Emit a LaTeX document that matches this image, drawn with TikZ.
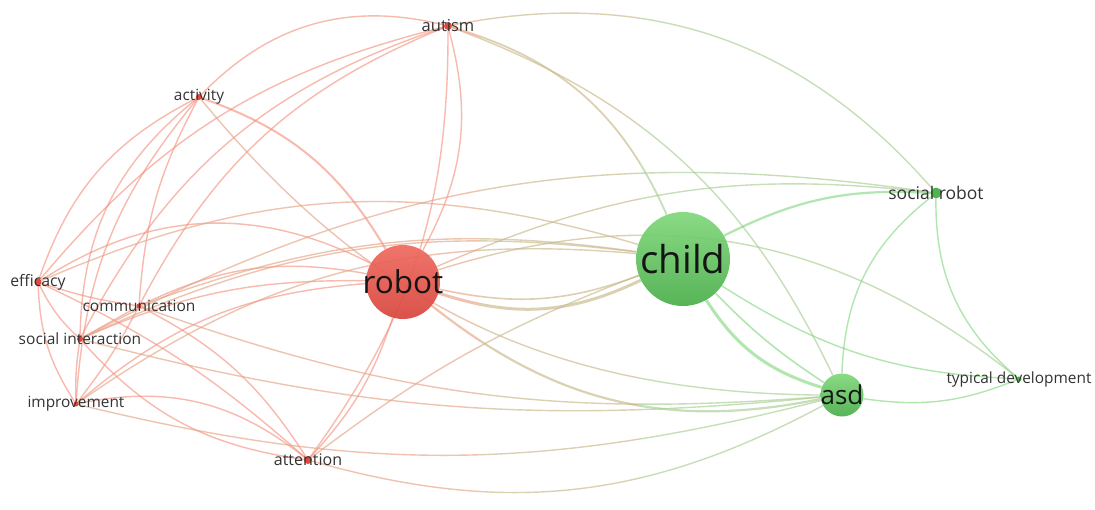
\documentclass[tikz,border=0pt]{standalone}
\usepackage{fontspec}
\usepackage{xcolor}
\usetikzlibrary{
    positioning,
    backgrounds
}
\newfontfamily\kwfont{Open Sans}
\definecolor{KwRed}{HTML}{E4473C}
\definecolor{KwRedTop}{HTML}{EE6A5E}
\definecolor{KwRedBot}{HTML}{D8443B}
\definecolor{KwGreen}{HTML}{4DB54D}
\definecolor{KwGreenTop}{HTML}{80D87A}
\definecolor{KwGreenBot}{HTML}{4AAE4A}
\definecolor{LinkRed}{HTML}{F48C78}
\definecolor{MixRed}{HTML}{E6A486}
\definecolor{LinkMix}{HTML}{C9B98A}
\definecolor{MixGreen}{HTML}{A9CE92}
\definecolor{LinkGreen}{HTML}{7ED679}
\definecolor{LabelGray}{HTML}{333333}
\definecolor{LabelBlack}{HTML}{151515}

\tikzset{
    kwdot/.style={circle, inner sep=0pt, minimum size=#1},
    redkw/.style={kwdot=#1, fill=KwRed},
    greenkw/.style={kwdot=#1, fill=KwGreen},
    bigred/.style={kwdot=#1, top color=KwRedTop, bottom color=KwRedBot, fill opacity=0.92},
    biggreen/.style={kwdot=#1, top color=KwGreenTop, bottom color=KwGreenBot, fill opacity=0.92},
    kwlabel/.style={font=\kwfont\fontsize{#1}{#1}\selectfont, text=LabelGray, inner sep=0pt},
    biglabel/.style={font=\kwfont\fontsize{#1}{#1}\selectfont, text=LabelBlack, inner sep=0pt},
    redlink/.style={draw=LinkRed, line width=1.4pt, draw opacity=0.6},
    mixlink/.style={line width=#1, draw opacity=0.65},
    greenlink/.style={draw=LinkGreen, line width=1.4pt, draw opacity=0.6}
}
\newcommand\mixlinks{
    autism/child/25/1.8pt, autism/asd/22/1.4pt, autism/socrobot/30/1.4pt, activity/asd/-25/1.4pt,
    efficacy/child/20/1.4pt, comm/child/14/1.4pt, socint/child/16/1.4pt, improve/child/20/1.4pt,
    attention/child/8/1.4pt, asd/comm/12/1.4pt, asd/socint/10/1.4pt, asd/improve/14/1.4pt,
    asd/attention/22/1.4pt, robot/socrobot/15/1.4pt, socint/socrobot/18/1.4pt, robot/typdev/28/1.4pt,
    asd/robot/25/2.2pt, child/robot/22/3pt, child/robot/16/1.6pt}

\begin{document}
\begin{tikzpicture}[x=1pt, y=-1pt]
    \useasboundingbox (0,0) rectangle (1095,509);

    % keywords
    \node[bigred=74, label={[biglabel=31.5]center:robot}] (robot) at (403,282) {};
    \node[biggreen=94, label={[biglabel=38.5]center:child}] (child) at (683,259) {};
    \node[biggreen=43, label={[biglabel=26]center:asd}] (asd) at (842,395) {};
    \node[greenkw=11, label={[kwlabel=17.5]center:social robot}] (socrobot) at (936,193) {};
    \node[greenkw=5, label={[kwlabel=15.4]center:typical development}] (typdev) at (1019,379) {};
    \node[redkw=8, label={[kwlabel=16.5]center:autism}] (autism) at (448,26) {};
    \node[redkw=6, label={[kwlabel=15.4]center:activity}] (activity) at (199,97) {};
    \node[redkw=7, label={[kwlabel=15.8]center:efficacy}] (efficacy) at (38,282) {};
    \node[redkw=5, label={[kwlabel=15.5]center:communication}] (comm) at (139,306) {};
    \node[redkw=6, label={[kwlabel=15.5]center:social interaction}] (socint) at (80,339) {};
    \node[redkw=5, label={[kwlabel=15.4]center:improvement}] (improve) at (76,404) {};
    \node[redkw=8, label={[kwlabel=16]center:attention}] (attention) at (308,460) {};

    % links
    \begin{scope}[on background layer]
        \fill[white] (0,0) rectangle (1095,509);
        \foreach \a/\b/\ang in {
            activity/autism/30, socint/autism/22, comm/autism/20, efficacy/autism/18,
            autism/robot/22, autism/attention/18, socint/activity/25, improve/activity/18,
            efficacy/activity/22, comm/activity/12, efficacy/robot/30, comm/robot/18,
            socint/robot/12, improve/robot/18, attention/robot/-12, efficacy/comm/-5,
            efficacy/socint/-10, efficacy/improve/-15, efficacy/attention/8, socint/improve/-5,
            comm/improve/5, comm/socint/0, improve/attention/25, attention/socint/20,
            comm/attention/15}
            \draw[redlink] (\a) to[bend left=\ang] (\b);
        \draw[redlink, line width=2pt] (activity) to[bend left=20] (robot);
        % red to green links, tinted by side
        \begin{scope}
            \clip (0,0) rectangle (480,509);
            \foreach \a/\b/\ang/\w in \mixlinks
                \draw[mixlink=\w, draw=MixRed] (\a) to[bend left=\ang] (\b);
        \end{scope}
        \begin{scope}
            \clip (480,0) rectangle (640,509);
            \foreach \a/\b/\ang/\w in \mixlinks
                \draw[mixlink=\w, draw=LinkMix] (\a) to[bend left=\ang] (\b);
        \end{scope}
        \begin{scope}
            \clip (640,0) rectangle (1095,509);
            \foreach \a/\b/\ang/\w in \mixlinks
                \draw[mixlink=\w, draw=MixGreen] (\a) to[bend left=\ang] (\b);
        \end{scope}
        \foreach \a/\b/\ang in {
            asd/socrobot/25, typdev/socrobot/25, typdev/asd/15, child/typdev/-15}
            \draw[greenlink] (\a) to[bend left=\ang] (\b);
        \draw[greenlink, line width=3pt] (asd) to[bend left=20] (child);
        \draw[greenlink, line width=1.6pt] (asd) to[bend left=6] (child);
        \draw[greenlink, line width=2.2pt] (child) to[bend left=15] (socrobot);
    \end{scope}
\end{tikzpicture}
\end{document}
